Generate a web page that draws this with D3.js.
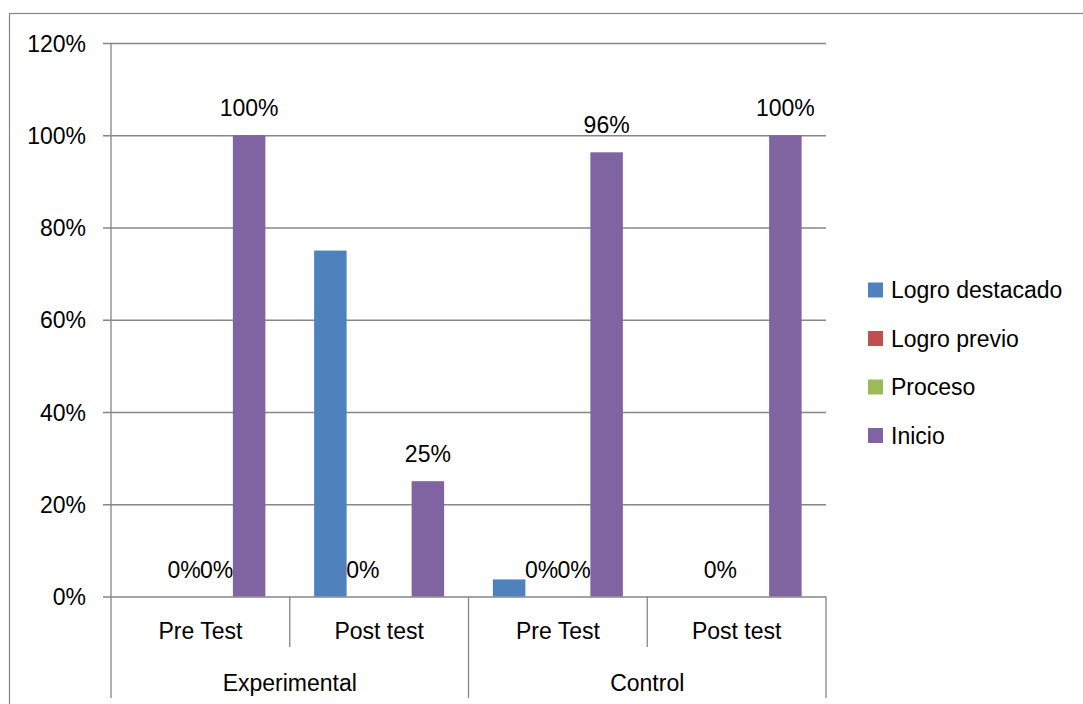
<!DOCTYPE html>
<html>
<head>
<meta charset="utf-8">
<script src="https://cdn.jsdelivr.net/npm/d3@7"></script>
<style>
  html, body { margin: 0; padding: 0; background: #fff; }
  svg { display: block; }
  text { font-family: "Liberation Sans", Arial, sans-serif; fill: #000; }
</style>
</head>
<body>
<svg id="chart" width="1083" height="704"></svg>
<script>
// ---- data ----
const groups = ["Experimental", "Control"];
const subCategories = ["Pre Test", "Post test"];
const seriesNames = ["Logro destacado", "Logro previo", "Proceso", "Inicio"];
const seriesColors = ["#4F81BD", "#C0504D", "#9BBB59", "#8064A2"];
const logroDestacado = [0, 75, 3.7, 0];
const logroPrevio = [0, 0, 0, 0];
const proceso = [0, 0, 0, 0];
const inicio = [100, 25, 96.3, 100];
// which data labels are displayed in the original
const labelsDestacado = [false, false, false, false];
const labelsPrevio = [true, true, true, true];
const labelsProceso = [true, false, true, false];
const labelsInicio = [true, true, true, true];
const yTicks = [0, 20, 40, 60, 80, 100, 120];

const seriesValues = [logroDestacado, logroPrevio, proceso, inicio];
const seriesLabels = [labelsDestacado, labelsPrevio, labelsProceso, labelsInicio];

// categories: combined group/subcategory
const cats = [];
groups.forEach(g => subCategories.forEach(s => cats.push({ group: g, sub: s, key: g + "|" + s })));

const svg = d3.select("#chart");
const gridColor = "#868686";
const fontSize = 23;

// outer frame (only left & top visible)
svg.append("rect")
  .attr("x", 9.5).attr("y", 13.5)
  .attr("width", 1200).attr("height", 1000)
  .attr("fill", "none").attr("stroke", gridColor).attr("stroke-width", 1.2);

const pLeft = 111, pRight = 826, pTop = 43, pBottom = 596.5;

const y = d3.scaleLinear().domain([0, 120]).range([pBottom, pTop]);
const x0 = d3.scaleBand().domain(cats.map(c => c.key)).range([pLeft, pRight]).padding(0);
const x1 = d3.scaleBand().domain(seriesNames).range([0, x0.bandwidth()])
  .paddingInner(0).paddingOuter(0.75);
const xg = d3.scaleBand().domain(groups).range([pLeft, pRight]).padding(0);

// gridlines + tick labels via axis
const yAxis = d3.axisLeft(y).tickValues(yTicks).tickFormat(d => d + "%")
  .tickSize(-(pRight - pLeft) - 8).tickPadding(0);
const ya = svg.append("g").attr("transform", `translate(${pRight},0)`).call(yAxis);
ya.select(".domain").remove();
ya.selectAll(".tick line").attr("stroke", gridColor).attr("stroke-width", 1.3)
  .attr("x1", 0).attr("x2", -(pRight - pLeft) - 8);
ya.selectAll(".tick text")
  .attr("x", -(pRight - 86))
  .attr("dy", "0.35em")
  .attr("text-anchor", "end")
  .style("font-size", fontSize + "px")
  .style("font-family", "'Liberation Sans', Arial, sans-serif")
  .attr("fill", "#000");

// bars
cats.forEach((c, i) => {
  const g = svg.append("g").attr("transform", `translate(${x0(c.key)},0)`);
  seriesNames.forEach((s, j) => {
    const v = seriesValues[j][i];
    g.append("rect")
      .attr("x", x1(s))
      .attr("y", y(v))
      .attr("width", x1.bandwidth())
      .attr("height", y(0) - y(v))
      .attr("fill", seriesColors[j]);
  });
});

// data labels
cats.forEach((c, i) => {
  seriesNames.forEach((s, j) => {
    if (!seriesLabels[j][i]) return;
    const v = seriesValues[j][i];
    svg.append("text")
      .attr("x", x0(c.key) + x1(s) + x1.bandwidth() / 2)
      .attr("y", y(v) - 19)
      .attr("text-anchor", "middle")
      .style("font-size", fontSize + "px")
      .text(Math.round(v) + "%");
  });
});

// y axis line (extends into category axis area)
svg.append("line").attr("x1", pLeft).attr("x2", pLeft).attr("y1", pTop).attr("y2", 698)
  .attr("stroke", gridColor).attr("stroke-width", 1.3);

// category axis dividers
cats.forEach((c, i) => {
  const xr = x0(c.key) + x0.bandwidth();
  const isGroupEnd = (i % subCategories.length) === subCategories.length - 1;
  svg.append("line").attr("x1", xr).attr("x2", xr)
    .attr("y1", pBottom).attr("y2", isGroupEnd ? 698 : 647)
    .attr("stroke", gridColor).attr("stroke-width", 1.3);
});

// subcategory labels
cats.forEach(c => {
  svg.append("text")
    .attr("x", x0(c.key) + x0.bandwidth() / 2)
    .attr("y", 631)
    .attr("dy", "0.35em")
    .attr("text-anchor", "middle")
    .style("font-size", fontSize + "px")
    .text(c.sub);
});

// group labels
groups.forEach(gname => {
  svg.append("text")
    .attr("x", xg(gname) + xg.bandwidth() / 2)
    .attr("y", 683)
    .attr("dy", "0.35em")
    .attr("text-anchor", "middle")
    .style("font-size", fontSize + "px")
    .text(gname);
});

// legend
const legendY = d3.scalePoint().domain(seriesNames).range([290, 435.5]);
seriesNames.forEach((s, j) => {
  svg.append("rect")
    .attr("x", 868).attr("y", legendY(s) - 7.5)
    .attr("width", 15).attr("height", 15)
    .attr("fill", seriesColors[j]);
  svg.append("text")
    .attr("x", 891).attr("y", legendY(s))
    .attr("dy", "0.35em")
    .style("font-size", fontSize + "px")
    .text(s);
});
</script>
</body>
</html>
